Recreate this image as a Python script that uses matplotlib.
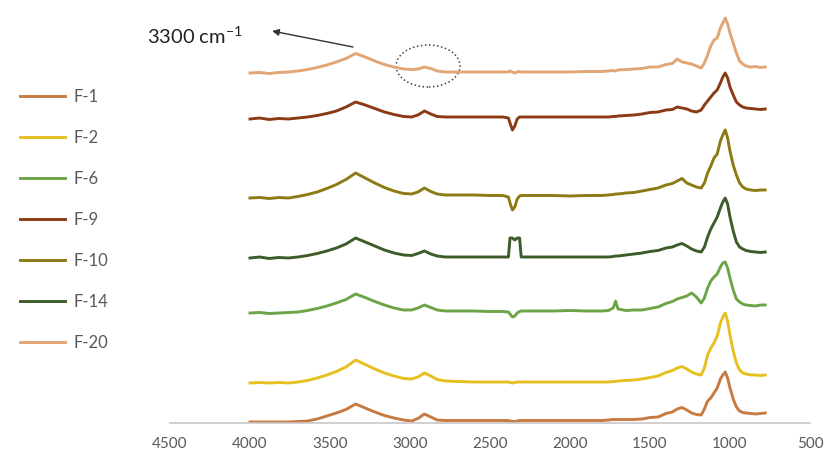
import numpy as np
import matplotlib
matplotlib.use("Agg")
import matplotlib.pyplot as plt
from matplotlib.patches import Ellipse

plt.rcParams['font.family'] = ['Lato', 'DejaVu Sans']

# wavenumbers (cm-1) shared by all spectra
wavenumber = [4000, 3940, 3880, 3820, 3760, 3700, 3640, 3580, 3520, 3460,
              3400, 3340, 3280, 3220, 3160, 3100, 3040, 2990, 2950, 2910,
              2870, 2830, 2780, 2700, 2600, 2500, 2420, 2385, 2375, 2360,
              2345, 2330, 2315, 2305, 2280, 2200, 2100, 2000, 1900, 1800,
              1760, 1730, 1715, 1700, 1650, 1600, 1550, 1500, 1450, 1400,
              1360, 1330, 1300, 1270, 1240, 1210, 1180, 1160, 1140, 1120,
              1100, 1080, 1060, 1045, 1030, 1015, 1000, 980, 960, 940,
              920, 900, 870, 840, 810, 780]

# stacked (offset) transmittance traces, arbitrary units
f1 = [1, 1, 1, 1, 1, 1.5, 2, 4, 7, 10,
      13.5, 19, 15, 11, 7.5, 5, 3, 2, 4.5, 9,
      6, 3, 2.5, 2.5, 2.5, 2.5, 2.5, 2.5, 2, 1.5,
      1.5, 2, 2.5, 2.5, 2.5, 2.5, 2.5, 2.5, 2.5, 2.5,
      3, 3.5, 3.5, 3.5, 3.5, 3.5, 4, 5.5, 6, 9.5,
      11, 14, 15.5, 13, 10, 8.5, 8, 14, 22, 25,
      30, 35, 44, 48, 51, 45, 35, 24, 16, 12,
      10.5, 10, 9.5, 9, 9.5, 10]
f2 = [40, 40.5, 40, 40.5, 40, 41, 42.5, 45, 48, 51.5,
      56, 63, 58.5, 54, 50, 47, 44.5, 44, 46, 50,
      47, 43.5, 42, 41.5, 41, 41, 41, 41, 40.5, 40,
      40.5, 41, 41, 41, 41, 41, 41, 41, 41, 41,
      41, 41.5, 41.5, 42, 42.5, 43, 44, 45.5, 47, 50.5,
      52.5, 55, 56.5, 54, 51, 49, 48, 55, 68, 75,
      80, 87, 100, 106, 110, 102, 88, 72, 60, 53,
      50, 49, 48, 48, 47.5, 48]
f6 = [110, 110.5, 109.5, 110, 110.5, 111, 112.5, 114.5, 117, 120,
      123.5, 129, 125.5, 121.5, 118, 115, 113, 113, 115, 118,
      115.5, 113, 112, 112, 112, 111.5, 111.5, 111, 109, 106,
      107, 110, 111.5, 112, 112, 112, 112, 112.5, 112, 112,
      112.5, 115, 122, 114, 112.5, 113, 113, 114.5, 116, 119.5,
      121.5, 124, 125.5, 127, 130, 126, 120, 125, 135, 142,
      146, 149, 156, 160, 161, 155, 145, 133, 124, 121,
      119, 118, 117.5, 117, 118, 118]
f9 = [304, 305, 303.5, 304.5, 304, 305, 306, 307.5, 309.5, 312,
      316, 321, 318, 314.5, 311, 308.5, 306.5, 306, 308, 312,
      309, 306.5, 306, 306, 306, 306, 306, 305, 300, 293,
      297, 304, 306, 306, 306, 306, 306, 306, 306, 306,
      306, 306.5, 306.5, 307, 307.5, 308, 309, 310.5, 311, 313,
      313.5, 316, 315, 314, 312, 311, 313, 318, 322, 326,
      330, 333, 340, 346, 350, 345, 336, 328, 321, 318,
      316, 315, 314.5, 314, 313.5, 314]
f10 = [225, 225.5, 224.5, 225.5, 225, 226.5, 228.5, 231, 234.5, 238.5,
       243.5, 250, 245, 240, 235.5, 232, 229.5, 229, 231, 235,
       231.5, 229, 228, 228, 228, 227.5, 227.5, 226, 220, 213,
       216, 224, 227, 227.5, 227.5, 227.5, 227.5, 227, 227.5, 227.5,
       228, 228.5, 229, 229, 230, 230.5, 232, 233.5, 235, 238,
       239.5, 242, 244.5, 240, 238, 236, 235, 240, 250, 257,
       265, 269, 282, 288, 293, 285, 272, 258, 248, 240,
       236, 234, 233, 232.5, 233, 233]
f14 = [165, 166, 164.5, 165.5, 165, 166, 167.5, 169.5, 172, 175,
       179, 185, 181, 177, 173, 170, 168, 167.5, 169.5, 172,
       169, 167, 166, 166, 166, 166, 166, 166, 185, 185,
       183, 185, 185, 166, 166, 166, 166, 166, 166, 166,
       166, 166.5, 167, 167, 168, 169, 170, 171.5, 172.5, 175,
       176, 178, 179.5, 177, 174, 172, 171, 176, 186, 194,
       200, 206, 215, 221, 225, 219, 206, 192, 181, 176,
       174, 172.5, 171.5, 171, 170.5, 171]
f20 = [350, 350.5, 349.5, 350.5, 351, 352, 353.5, 355.5, 358, 361,
       364.5, 369.5, 366, 362, 358.5, 356, 354, 353.5, 354, 356,
       354.5, 352, 351, 351, 351, 351, 351, 351, 352, 351,
       350, 351, 351.5, 351, 351, 351, 351, 351, 351.5, 351.5,
       352, 352.5, 352, 353, 353.5, 354, 354.5, 356, 356, 358.5,
       359.5, 364, 361, 360, 359, 357, 355, 360, 368, 377,
       383, 385, 395, 400, 405, 399, 390, 380, 370, 362,
       359, 357, 356, 356.5, 355.5, 356]

labels = ['F-1', 'F-2', 'F-6', 'F-9', 'F-10', 'F-14', 'F-20']
series = [f1, f2, f6, f9, f10, f14, f20]
colors = ['#C77A42', '#E6C021', '#6EA448', '#8A3A14', '#8C7A14', '#3D5C2A', '#E2A574']

fig = plt.figure(figsize=(8.32, 4.58), dpi=100)
ax = fig.add_axes([170 / 832, 35 / 458, 640 / 832, 413 / 458])

for lab, vals, col in zip(labels, series, colors):
    assert len(vals) == len(wavenumber)
    ax.plot(wavenumber, vals, color=col, lw=2.1, label=lab, solid_joinstyle='round')

ax.set_xlim(4500, 500)
ax.set_ylim(0, 413)
ax.set_xticks(np.arange(4500, 499, -500))
ax.set_yticks([])
for s in ['left', 'right', 'top']:
    ax.spines[s].set_visible(False)
ax.spines['bottom'].set_color('#C8C8C8')
ax.spines['bottom'].set_linewidth(1.2)
ax.tick_params(axis='x', length=0, pad=10, labelsize=11, labelcolor='#595959')

# dotted circle around the C-H band of F-20
ax.add_patch(Ellipse((2887, 357), width=400, height=42, fill=False,
                     linestyle=':', edgecolor='#444444', lw=1.1))

# arrow to the 3300 label
ax.annotate('', xy=(3862, 392), xytext=(3356, 376), annotation_clip=False,
            arrowprops=dict(arrowstyle='-|>', color='#333333', lw=1,
                            mutation_scale=10, shrinkA=0, shrinkB=0))
fig.text(147 / 832, 1 - 36 / 458, '3300 cm$^{\\mathregular{-1}}$', fontsize=14.5,
         color='#222222', va='center', ha='left')

fig.legend(loc='upper left', bbox_to_anchor=(20 / 832, 1 - 89 / 458),
           frameon=False, fontsize=12, labelcolor='#595959',
           handlelength=2.7, handletextpad=0.5, labelspacing=1.5,
           borderpad=0, borderaxespad=0)

fig.savefig('out.png', dpi=100)
